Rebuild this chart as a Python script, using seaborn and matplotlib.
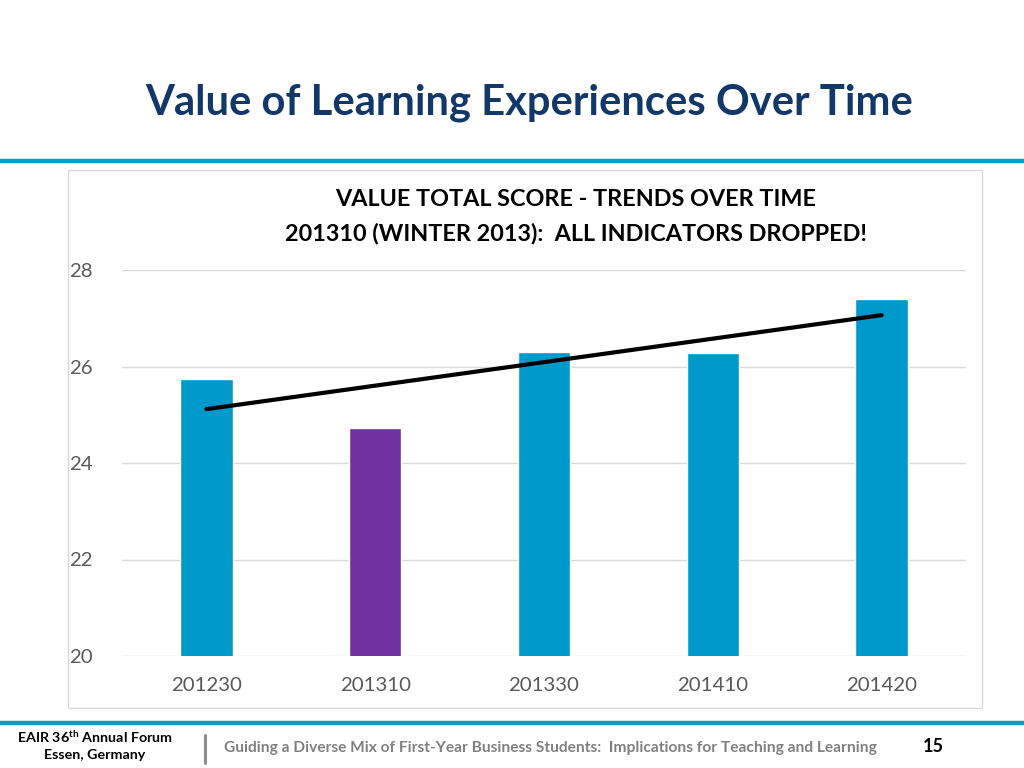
import numpy as np
import pandas as pd
import matplotlib
matplotlib.use("Agg")
import matplotlib.pyplot as plt
import seaborn as sns
from matplotlib.patches import Rectangle
from matplotlib.lines import Line2D

# Step 1: chart values
terms = ["201230", "201310", "201330", "201410", "201420"]
scores = [25.74, 24.73, 26.30, 26.28, 27.40]
bar_colors = ["#0099CC", "#7030A0", "#0099CC", "#0099CC", "#0099CC"]
y_ticks = [20, 22, 24, 26, 28]

slide_title = "Value of Learning Experiences Over Time"
chart_title_1 = "VALUE TOTAL SCORE - TRENDS OVER TIME"
chart_title_2 = "201310 (WINTER 2013):  ALL INDICATORS DROPPED!"
footer_mid = "Guiding a Diverse Mix of First-Year Business Students:  Implications for Teaching and Learning"
page_no = "15"

df = pd.DataFrame({"term": terms, "score": scores})

# linear trend through the bars
pos = np.arange(len(terms))
slope, icpt = np.polyfit(pos, scores, 1)
trend = pd.DataFrame({"x": pos, "y": slope * pos + icpt})

# Step 2: style
sns.set_theme(style="white")
plt.rcParams["font.family"] = ["Lato", "DejaVu Sans"]
plt.rcParams["mathtext.fontset"] = "custom"
plt.rcParams["mathtext.rm"] = "Lato"
plt.rcParams["mathtext.bf"] = "Lato:bold"

W, H = 1024, 768
fig = plt.figure(figsize=(W / 100, H / 100), dpi=100)

def fx(px):
    return px / W

def fy(py):
    return 1 - py / H

# slide decoration
fig.add_artist(Line2D([0, 1], [fy(161), fy(161)], color="#0E9AC8", lw=3.2))
fig.add_artist(Line2D([0, 1], [fy(723), fy(723)], color="#0E9AC8", lw=3.2))
fig.add_artist(Rectangle((fx(68), fy(708)), fx(982) - fx(68), fy(170) - fy(708),
                         transform=fig.transFigure, fill=False, edgecolor="#D9D9D9", lw=1))
fig.add_artist(Line2D([fx(205), fx(205)], [fy(735), fy(763)], color="#8C8C8C", lw=2.2))

fig.text(fx(529), fy(103), slide_title, ha="center", va="center",
         fontsize=30.1, fontweight="bold", color="#12386A")
fig.text(fx(576), fy(200), chart_title_1, ha="center", va="center",
         fontsize=16.8, fontweight="bold", color="black")
fig.text(fx(576), fy(233), chart_title_2, ha="center", va="center",
         fontsize=16.8, fontweight="bold", color="black")

# Step 3: plot
ax = fig.add_axes([fx(122), fy(656), fx(966) - fx(122), fy(270) - fy(656)])
sns.barplot(data=df, x="term", y="score", hue="term", palette=bar_colors,
            legend=False, width=0.31, saturation=1, ax=ax)
sns.lineplot(data=trend, x="x", y="y", color="black", lw=3, ax=ax)

ax.set_ylim(20, 28)
ax.set_xlim(-0.5, len(terms) - 0.5)
ax.set_yticks(y_ticks)
ax.set_xlabel("")
ax.set_ylabel("")
ax.yaxis.grid(True, color="#D9D9D9", lw=1)
ax.set_axisbelow(True)
for s in ax.spines.values():
    s.set_visible(False)
ax.tick_params(axis="both", length=0, labelsize=14.7, labelcolor="#595959")
ax.tick_params(axis="y", pad=21)
ax.tick_params(axis="x", pad=15)

# footer
fig.text(fx(95), fy(737), r"EAIR 36$^{\mathbf{th}}$ Annual Forum", ha="center", va="center",
         fontsize=10.3, fontweight="bold", color="black")
fig.text(fx(95), fy(755), "Essen, Germany", ha="center", va="center",
         fontsize=10.3, fontweight="bold", color="black")
fig.text(fx(224), fy(748), footer_mid, ha="left", va="center",
         fontsize=11.2, fontweight="bold", color="#808080")
fig.text(fx(933), fy(747), page_no, ha="center", va="center",
         fontsize=13, fontweight="bold", color="black")

fig.savefig("out.png", dpi=100)
